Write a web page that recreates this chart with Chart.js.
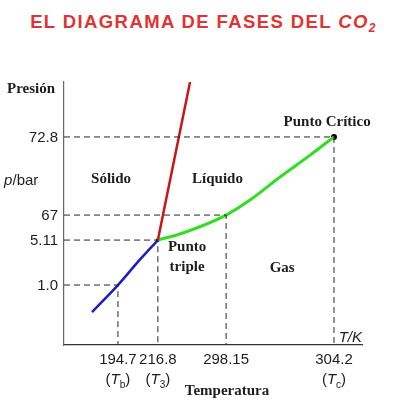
<!DOCTYPE html>
<html>
<head>
<meta charset="utf-8">
<script src="https://cdn.jsdelivr.net/npm/chart.js@4/dist/chart.umd.min.js"></script>
<style>
  html, body { margin: 0; padding: 0; background: #ffffff; }
  #caja { position: relative; width: 395px; height: 409px; }
  #titulo {
    position: absolute; left: 6px; top: 11px; width: 395px; text-align: center;
    font-family: "Liberation Sans", Arial, sans-serif; font-weight: bold; font-size: 18.5px;
    letter-spacing: 1.4px; color: #e03434; white-space: nowrap;
  }
  #titulo sub { font-size: 12px; vertical-align: -4px; }
  canvas { position: absolute; left: 0; top: 0; }
</style>
</head>
<body>
<div id="caja">
  <div id="titulo">EL DIAGRAMA DE FASES DEL <i>CO<sub>2</sub></i></div>
  <canvas id="diagrama" width="395" height="409"></canvas>
</div>
<script>
// ejes esquematicos (0-100), las etiquetas llevan los valores reales
const tempEtiquetas = ['194.7', '216.8', '298.15', '304.2'];
const tempSubind = ['b', '3', '', 'c'];
const tempPos = [18.1, 31.5, 54.4, 90.6];
const presEtiquetas = ['1.0', '5.11', '67', '72.8'];
const presPos = [22.8, 39.9, 49.4, 79.1];

// curvas
const sublimX = [9.4, 18.1, 24.8, 31.5];
const sublimY = [12.5, 22.8, 31.6, 39.9];
const fusionX = [31.5, 42.3];
const fusionY = [39.9, 100];
const vaporX = [31.5, 39.9, 54.4, 62.4, 72.5, 82.6, 90.6];
const vaporY = [39.9, 42.6, 49.4, 55.1, 63.9, 72.2, 79.1];

const puntos = (xs, ys) => xs.map((x, i) => ({x: x, y: ys[i]}));

// lineas discontinuas desde cada punto hasta los ejes
const guias = tempPos.map((t, i) => ({
  data: [{x: 0, y: presPos[i]}, {x: t, y: presPos[i]}, {x: t, y: 0}],
  borderColor: '#262626', borderWidth: 1, borderDash: [6, 4],
  pointRadius: 0, tension: 0, fill: false
}));

const textos = {
  id: 'textos',
  afterDraw(chart) {
    const c = chart.ctx;
    const sx = chart.scales.x, sy = chart.scales.y;
    c.save();
    c.fillStyle = '#1e1e1e';
    // etiquetas del eje y
    c.font = '15px "Liberation Sans", Arial, sans-serif';
    c.textAlign = 'right'; c.textBaseline = 'middle';
    presEtiquetas.forEach((e, i) => c.fillText(e, 58, sy.getPixelForValue(presPos[i]) + 1));
    // etiquetas del eje x
    c.textAlign = 'center'; c.textBaseline = 'alphabetic';
    tempEtiquetas.forEach((e, i) => {
      const px = sx.getPixelForValue(tempPos[i]);
      c.font = '15px "Liberation Sans", Arial, sans-serif';
      c.fillText(e, px, 364);
      if (tempSubind[i]) {
        c.textAlign = 'left';
        const wP = c.measureText('(').width;
        c.font = 'italic 15px "Liberation Sans", Arial, sans-serif';
        const wT = c.measureText('T').width;
        c.font = '10px "Liberation Sans", Arial, sans-serif';
        const wS = c.measureText(tempSubind[i]).width;
        let x0 = px - (2 * wP + wT + wS) / 2;
        c.font = '15px "Liberation Sans", Arial, sans-serif';
        c.fillText('(', x0, 384); x0 += wP;
        c.font = 'italic 15px "Liberation Sans", Arial, sans-serif';
        c.fillText('T', x0, 384); x0 += wT;
        c.font = '10px "Liberation Sans", Arial, sans-serif';
        c.fillText(tempSubind[i], x0, 388); x0 += wS;
        c.font = '15px "Liberation Sans", Arial, sans-serif';
        c.fillText(')', x0, 384);
        c.textAlign = 'center';
      }
    });
    // unidades
    c.font = 'italic 15px "Liberation Sans", Arial, sans-serif';
    c.textAlign = 'right';
    c.fillText('T/K', 362, 342);
    c.textAlign = 'left';
    c.fillText('p', 4, 185);
    c.font = '15px "Liberation Sans", Arial, sans-serif';
    c.fillText('/bar', 4 + 8.5, 185);
    // titulos y zonas
    c.font = 'bold 15px "Liberation Serif", "Times New Roman", serif';
    c.textAlign = 'left';
    c.fillText('Presión', 7, 93);
    c.textAlign = 'center';
    c.fillText('Temperatura', 227, 395);
    c.fillText('Sólido', sx.getPixelForValue(15.8), 183);
    c.fillText('Líquido', sx.getPixelForValue(51.5), 183);
    c.fillText('Gas', sx.getPixelForValue(73.2), 272);
    c.fillText('Punto Crítico', sx.getPixelForValue(88.3), 126);
    c.fillText('Punto', sx.getPixelForValue(41.3), 251);
    c.fillText('triple', sx.getPixelForValue(41.3), 271);
    c.restore();
  }
};

new Chart(document.getElementById('diagrama'), {
  type: 'line',
  data: {
    datasets: [
      ...guias,
      {data: puntos(sublimX, sublimY), borderColor: '#1c1cc4', borderWidth: 2.5,
       pointRadius: 0, tension: 0.3, fill: false},
      {data: puntos(fusionX, fusionY), borderColor: '#cc1616', borderWidth: 2.5,
       pointRadius: 0, tension: 0, fill: false},
      {data: puntos(vaporX, vaporY), borderColor: '#33dd22', borderWidth: 3,
       pointRadius: 0, cubicInterpolationMode: 'monotone', fill: false},
      {data: [{x: tempPos[3], y: presPos[3]}], showLine: false,
       pointRadius: 3, pointBackgroundColor: '#000', pointBorderWidth: 0},
      {data: [{x: tempPos[1], y: presPos[1]}], showLine: false,
       pointRadius: 2, pointBackgroundColor: '#1c1cc4', pointBorderWidth: 0}
    ]
  },
  options: {
    responsive: false,
    animation: false,
    layout: {padding: {left: 64, right: 33, top: 82, bottom: 64}},
    plugins: {legend: {display: false}, tooltip: {enabled: false}},
    scales: {
      x: {
        type: 'linear', min: 0, max: 100,
        ticks: {display: false},
        grid: {display: false, drawTicks: false},
        border: {display: true, color: '#333', width: 1.2}
      },
      y: {
        type: 'linear', min: 0, max: 100,
        ticks: {display: false},
        grid: {display: false, drawTicks: false},
        border: {display: true, color: '#666', width: 1.2}
      }
    }
  },
  plugins: [textos]
});
</script>
</body>
</html>
